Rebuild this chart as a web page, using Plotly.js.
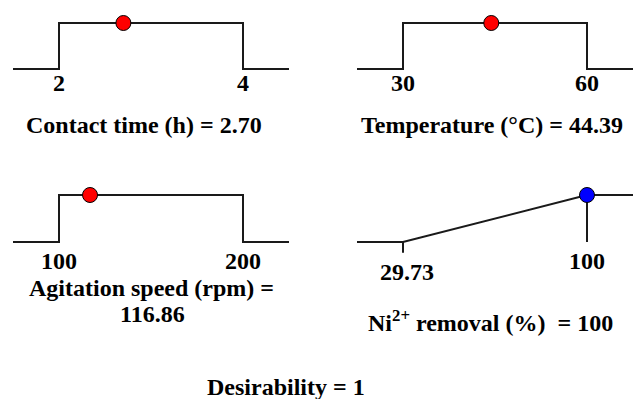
<!DOCTYPE html>
<html>
<head>
<meta charset="utf-8">
<script src="https://cdn.plot.ly/plotly-3.0.1.min.js"></script>
<style>html,body{margin:0;padding:0;background:#fff;}#chart{width:633px;height:399px;}</style>
</head>
<body>
<div id="chart"></div>
<script>
// ---- data ----
var factorNames = ["Contact time (h)", "Temperature (°C)", "Agitation speed (rpm)", "Ni<sup>2+</sup> removal (%) "];
var lowLimits = [2, 30, 100, 29.73];
var highLimits = [4, 60, 200, 100];
var optimumValues = [2.70, 44.39, 116.86, 100];
var optimumLabels = ["2.70", "44.39", "116.86", "100"];
var lowTickLabels = ["2", "30", "100", "29.73"];
var highTickLabels = ["4", "60", "200", "100"];
var desirabilityValue = 1;

// ---- layout helpers ----
var W = 633, H = 399;
var font = {family: "Times New Roman, Liberation Serif, DejaVu Serif, serif", size: 24, color: "#000", weight: "bold"};
var lineStyle = {color: "#1a1a1a", width: 2};
var traces = [];
var annotations = [];
var layout = {
  width: W, height: H, margin: {l: 0, r: 0, t: 0, b: 0},
  paper_bgcolor: "#fff", plot_bgcolor: "#fff", showlegend: false,
  font: font
};

var xDomains = [[13 / W, 289 / W], [357 / W, 1], [13 / W, 289 / W], [357 / W, 1]];
var yDomains = [[1 - 115 / H, 1], [1 - 115 / H, 1], [1 - 289 / H, 1 - 171.5 / H], [1 - 289 / H, 1 - 171.5 / H]];

for (var i = 0; i < 4; i++) {
  var sfx = i === 0 ? "" : String(i + 1);
  var lo = lowLimits[i], hi = highLimits[i], ext = (hi - lo) / 4;
  layout["xaxis" + sfx] = {domain: xDomains[i], range: [lo - ext, hi + ext], visible: false, fixedrange: true};
  layout["yaxis" + sfx] = {domain: yDomains[i], range: [-1, 1.5], visible: false, fixedrange: true};
  var xa = "x" + sfx, ya = "y" + sfx;
  var isResponse = (i === 3);
  if (!isResponse) {
    traces.push({type: "scatter", mode: "lines", xaxis: xa, yaxis: ya, hoverinfo: "skip",
      x: [lo - ext, lo, lo, hi, hi, hi + ext], y: [0, 0, 1, 1, 0, 0], line: lineStyle});
  } else {
    traces.push({type: "scatter", mode: "lines", xaxis: xa, yaxis: ya, hoverinfo: "skip",
      x: [lo - ext, lo, hi, hi + ext], y: [0, 0, 1, 1], line: lineStyle});
    traces.push({type: "scatter", mode: "lines", xaxis: xa, yaxis: ya, hoverinfo: "skip",
      x: [hi, hi], y: [1, 0], line: lineStyle});
    traces.push({type: "scatter", mode: "lines", xaxis: xa, yaxis: ya, hoverinfo: "skip",
      x: [lo, lo], y: [0, -0.23], line: lineStyle});
  }
  // optimum point
  var d;
  if (!isResponse) d = 1; else d = (optimumValues[i] - lo) / (hi - lo);
  traces.push({type: "scatter", mode: "markers", xaxis: xa, yaxis: ya, cliponaxis: false,
    x: [optimumValues[i]], y: [Math.min(1, Math.max(0, d))],
    marker: {size: 15, color: isResponse ? "#0000ff" : "#ff0000", line: {color: "#000", width: 1}}});

  // tick labels
  var shiftLo = (i < 2) ? -14 : (isResponse ? -30 : -19);
  var shiftHi = (i < 2) ? -14 : -19;
  annotations.push({xref: xa, yref: ya, x: lo, y: 0, yshift: shiftLo, xshift: isResponse ? 4 : 0,
    text: lowTickLabels[i], showarrow: false, xanchor: "center", yanchor: "middle", font: font});
  annotations.push({xref: xa, yref: ya, x: hi, y: 0, yshift: shiftHi,
    text: highTickLabels[i], showarrow: false, xanchor: "center", yanchor: "middle", font: font});
}

// titles
function addTitle(text, px, py) {
  annotations.push({xref: "paper", yref: "paper", x: px / W, y: 1 - py / H, text: text,
    showarrow: false, xanchor: "center", yanchor: "middle", font: font});
}
addTitle(factorNames[0] + " = " + optimumLabels[0], 144, 125);
addTitle(factorNames[1] + " = " + optimumLabels[1], 492, 125);
addTitle(factorNames[2] + " =", 151, 288);
addTitle(optimumLabels[2], 152, 314);
addTitle(factorNames[3] + " = " + optimumLabels[3], 490, 321);
addTitle("Desirability = " + desirabilityValue, 286, 387);

layout.annotations = annotations;
Plotly.newPlot("chart", traces, layout, {staticPlot: true, displayModeBar: false});
</script>
</body>
</html>
